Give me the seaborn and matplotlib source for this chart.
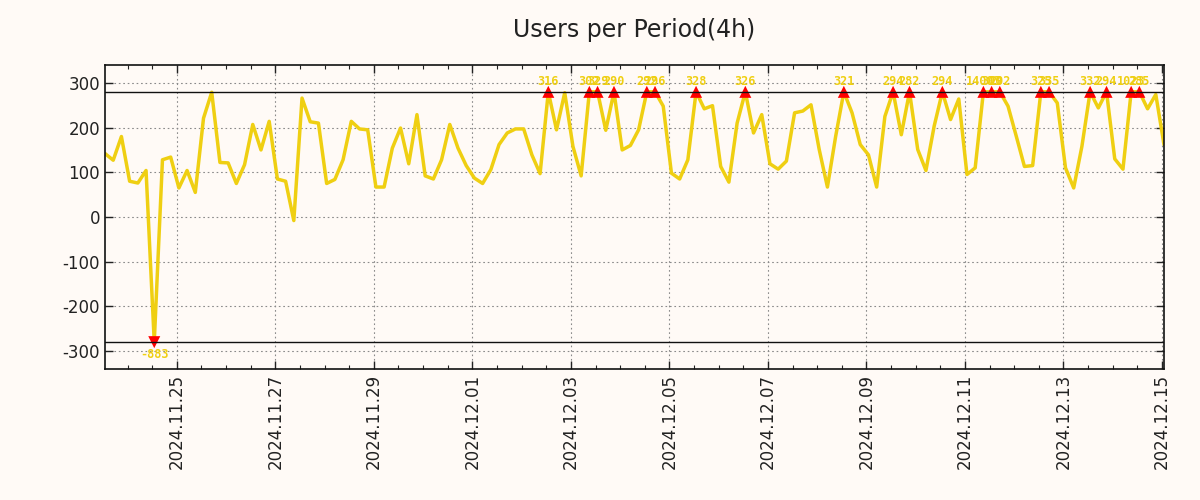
import numpy as np
import pandas as pd
import matplotlib
matplotlib.use("Agg")
import matplotlib.pyplot as plt
import matplotlib.dates as mdates
import seaborn as sns

# ---------------- data ----------------
title = "Users per Period(4h)"
start_time = "2024-11-23 13:00"
period = "4h"
users = [
    142, 127, 180, 80, 76, 104, -883, 128, 134, 65,
    104, 55, 221, 279, 122, 121, 75, 117, 207, 150,
    214, 85, 80, -8, 266, 213, 210, 75, 84, 128,
    214, 197, 195, 67, 67, 154, 199, 119, 229, 92,
    85, 128, 207, 154, 115, 87, 75, 106, 162, 188,
    197, 197, 139, 97, 316, 195, 278, 158, 92, 302,
    329, 194, 290, 150, 160, 195, 292, 296, 248, 98,
    85, 128, 328, 242, 249, 113, 78, 210, 326, 188,
    229, 119, 107, 125, 233, 237, 251, 151, 67, 180,
    321, 233, 162, 139, 67, 225, 294, 184, 282, 151,
    104, 203, 294, 218, 264, 95, 110, 14003, 300, 292,
    248, 181, 113, 115, 325, 335, 255, 110, 65, 158,
    332, 244, 294, 130, 107, 1023, 285, 242, 274, 162,
]
upper_limit = 280
lower_limit = -280
y_ticks = [-300, -200, -100, 0, 100, 200, 300]
y_range = (-340, 340)

# ---------------- style ----------------
bg = "#FFFAF6"
gold = "#EFCF12"
sns.set_theme(style="ticks")
plt.rcParams["font.family"] = ["DejaVu Sans"]
plt.rcParams["axes.unicode_minus"] = False

times = pd.date_range(start=start_time, periods=len(users), freq=period)
df = pd.DataFrame({"time": times, "users": users})
df["shown"] = df["users"].clip(lower_limit, upper_limit)
above = df[df["users"] > upper_limit].copy()
above["pos"] = upper_limit
below = df[df["users"] < lower_limit].copy()
below["pos"] = lower_limit

fig = plt.figure(figsize=(12, 5), dpi=100, facecolor=bg)
ax = fig.add_axes([0.0875, 0.262, 0.8825, 0.608])
ax.set_facecolor(bg)

sns.lineplot(data=df, x="time", y="shown", color=gold, linewidth=2.5, ax=ax, zorder=2)
sns.scatterplot(data=above, x="time", y="pos", marker="^", s=75, color="#FF0000",
                edgecolor="none", ax=ax, zorder=3)
sns.scatterplot(data=below, x="time", y="pos", marker="v", s=75, color="#FF0000",
                edgecolor="none", ax=ax, zorder=3)
ax.axhline(upper_limit, color="#111111", lw=1.0, zorder=4)
ax.axhline(lower_limit, color="#111111", lw=1.0, zorder=4)

for t, v in zip(above["time"], above["users"]):
    ax.annotate(str(v), (t, upper_limit), xytext=(0, 7.6), textcoords="offset points",
                ha="center", va="center", color=gold, fontsize=8.5, fontweight="bold",
                family="DejaVu Sans Mono", zorder=5)
for t, v in zip(below["time"], below["users"]):
    ax.annotate(str(v), (t, lower_limit), xytext=(0, -8.8), textcoords="offset points",
                ha="center", va="center", color=gold, fontsize=8.5, fontweight="bold",
                family="DejaVu Sans Mono", zorder=5)

ax.set_xlim(times[0], times[-1])
ax.set_ylim(*y_range)
ax.set_yticks(y_ticks)
ax.xaxis.set_major_locator(mdates.DayLocator(bymonthday=range(1, 32, 2)))
ax.xaxis.set_minor_locator(mdates.HourLocator(byhour=[0, 12]))
ax.xaxis.set_major_formatter(mdates.DateFormatter("%Y.%m.%d"))
for lab in ax.get_xticklabels():
    lab.set_rotation(90)

ax.grid(True, which="major", color="#8a8a8a", linestyle=(0, (1.5, 2.5)), linewidth=0.8)
ax.tick_params(which="major", direction="in", length=6, width=1, top=True, right=True,
               colors="#222222", labelsize=12, labelcolor="#222222")
ax.tick_params(which="minor", direction="in", length=3, width=0.8, top=True, right=True,
               colors="#222222")
for s in ax.spines.values():
    s.set_color("#111111")
    s.set_linewidth(1.2)
ax.set_xlabel("")
ax.set_ylabel("")
ax.set_title(title, fontsize=17, color="#222222", pad=20)

fig.savefig("out.png", dpi=100, facecolor=bg)
